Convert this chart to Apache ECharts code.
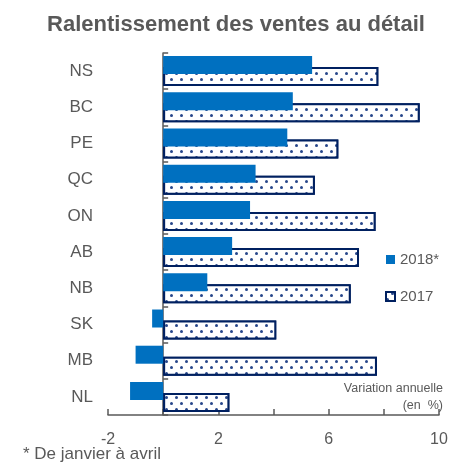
<!DOCTYPE html>
<html>
<head>
    <meta charset="utf-8">
    <title>Ventes au détail</title>
    <script src="https://cdn.jsdelivr.net/npm/echarts@6/dist/echarts.min.js"></script>
    <style>
        body { margin: 0; background: #fff; }
        #chart { width: 472px; height: 462px; }
    </style>
</head>
<body>
    <div id="chart"></div>
    <script>
        // provinces, top to bottom
        var provinces = ['NS', 'BC', 'PE', 'QC', 'ON', 'AB', 'NB', 'SK', 'MB', 'NL'];
        // annual change (%)
        var ventes2018 = [5.4, 4.7, 4.5, 3.35, 3.15, 2.5, 1.6, -0.4, -1.0, -1.2];
        var ventes2017 = [7.8, 9.3, 6.35, 5.5, 7.7, 7.1, 6.8, 4.1, 7.75, 2.4];
        var xTicks = [-2, 2, 6, 10];

        var grey = '#595959';
        var font = 'Liberation Sans, Arial, sans-serif';

        var chart = echarts.init(document.getElementById('chart'));
        var option = {
            animation: false,
            textStyle: { fontFamily: font },
            title: {
                text: 'Ralentissement des ventes au détail',
                left: 'center',
                top: 9,
                textStyle: { color: grey, fontSize: 22, fontWeight: 'bold', fontFamily: font }
            },
            legend: {
                orient: 'vertical',
                left: 380,
                top: 247,
                icon: 'rect',
                itemWidth: 9,
                itemHeight: 9,
                itemGap: 22,
                textStyle: { color: grey, fontSize: 15, fontFamily: font },
                data: ['2018*', '2017']
            },
            grid: { left: 108, right: 33, top: 53, bottom: 47 },
            xAxis: {
                type: 'value',
                min: -2,
                max: 10,
                interval: 2,
                splitLine: { show: false },
                axisLine: { show: true, lineStyle: { color: grey, width: 1.5 } },
                axisTick: { show: true, inside: true, length: 6, lineStyle: { color: grey, width: 1.5 } },
                axisLabel: {
                    color: grey, fontSize: 16, margin: 17,
                    // only every other tick carries a label
                    formatter: function (v) { return xTicks.indexOf(v) >= 0 ? String(v) : ''; }
                }
            },
            yAxis: [
                {
                    // labels at the far left
                    type: 'category',
                    inverse: true,
                    data: provinces,
                    axisLine: { show: false, onZero: false },
                    axisTick: { show: false },
                    axisLabel: { color: grey, fontSize: 17, margin: 15 }
                },
                {
                    // the axis line that sits on zero
                    type: 'category',
                    inverse: true,
                    position: 'left',
                    data: provinces,
                    axisLine: { show: true, onZero: true, lineStyle: { color: grey, width: 1.5 } },
                    axisTick: { show: true, inside: true, length: 5, lineStyle: { color: grey, width: 1.5 } },
                    axisLabel: { show: false }
                }
            ],
            series: [
                {
                    name: '2018*',
                    type: 'bar',
                    z: 3,
                    barWidth: 18,
                    barGap: '-39%',
                    itemStyle: { color: '#0070c0' },
                    data: ventes2018
                },
                {
                    name: '2017',
                    type: 'bar',
                    z: 2,
                    barWidth: 19,
                    itemStyle: {
                        color: '#ffffff',
                        borderColor: '#002060',
                        borderWidth: 2,
                        // staggered dot pattern
                        decal: {
                            symbol: 'circle',
                            symbolSize: 1,
                            color: '#27468a',
                            backgroundColor: '#ffffff',
                            dashArrayX: [[3, 7], [0, 5, 3, 2]],
                            dashArrayY: [3, 3]
                        }
                    },
                    data: ventes2017
                }
            ],
            graphic: [
                {
                    type: 'text', right: 29, top: 382,
                    style: { text: 'Variation annuelle', fill: grey, font: '12.5px ' + font, textAlign: 'right' }
                },
                {
                    type: 'text', right: 29, top: 399,
                    style: { text: '(en  %)', fill: grey, font: '12.5px ' + font, textAlign: 'right' }
                },
                {
                    type: 'text', left: 23, top: 446,
                    style: { text: '* De janvier à avril', fill: grey, font: '17px ' + font }
                }
            ]
        };
        chart.setOption(option);
    </script>
</body>
</html>
